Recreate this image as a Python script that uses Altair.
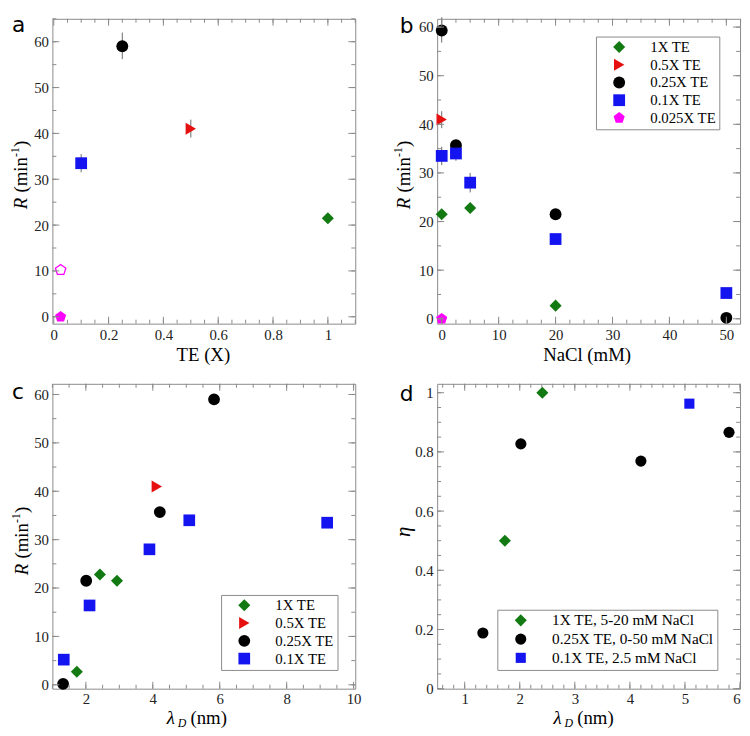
import altair as alt
import pandas as pd

# ---------------- data ----------------
series_names = ["1X TE", "0.5X TE", "0.25X TE", "0.1X TE", "0.025X TE"]
series_colors = ["#137a13", "#e61010", "#000000", "#1414f0", "#ff00ff"]
PENTAGON = "M0,-1L0.951,-0.309L0.588,0.809L-0.588,0.809L-0.951,-0.309Z"
series_shapes = ["diamond", "triangle-right", "circle", "square", PENTAGON]
series_sizes = [150, 140, 105, 75, 120]

# panel a : R vs TE
a_series = ["1X TE", "0.5X TE", "0.25X TE", "0.1X TE", "0.025X TE"]
a_te = [1.0, 0.5, 0.25, 0.1, 0.025]
a_r = [21.5, 41.0, 59.0, 33.5, 0.0]
a_err_te = [0.5, 0.25, 0.1]
a_err_lo = [39.1, 56.2, 31.5]
a_err_hi = [43.0, 62.0, 35.5]
a_open_te = [0.025]
a_open_r = [10.2]

# panel b : R vs NaCl
b_series = ["1X TE", "1X TE", "1X TE",
            "0.5X TE",
            "0.25X TE", "0.25X TE", "0.25X TE", "0.25X TE",
            "0.1X TE", "0.1X TE", "0.1X TE", "0.1X TE", "0.1X TE",
            "0.025X TE"]
b_nacl = [0, 5, 20,
          0,
          0, 2.5, 20, 50,
          0, 2.5, 5, 20, 50,
          0]
b_r = [21.5, 22.8, 2.7,
       41.0,
       59.3, 35.7, 21.5, 0.2,
       33.5, 34.0, 28.0, 16.4, 5.3,
       0.0]
b_err_x = [0, 0, 0, 2.5, 5]
b_err_lo = [56.8, 39.2, 31.6, 32.5, 26.0]
b_err_hi = [62.0, 42.7, 35.4, 35.5, 30.0]

# panel c : R vs Debye length
c_names = ["1X TE", "0.5X TE", "0.25X TE", "0.1X TE"]
c_series = ["1X TE", "1X TE", "1X TE",
            "0.5X TE",
            "0.25X TE", "0.25X TE", "0.25X TE", "0.25X TE",
            "0.1X TE", "0.1X TE", "0.1X TE", "0.1X TE", "0.1X TE"]
c_lambda = [1.73, 2.42, 2.93,
            4.12,
            1.32, 2.01, 4.21, 5.83,
            1.34, 2.11, 3.90, 5.09, 9.21]
c_r = [2.7, 22.8, 21.5,
       41.0,
       0.2, 21.5, 35.7, 59.0,
       5.2, 16.4, 28.0, 34.0, 33.5]

# panel d : eta vs Debye length
d_names = ["1X TE, 5-20 mM NaCl", "0.25X TE, 0-50 mM NaCl", "0.1X TE, 2.5 mM NaCl"]
d_series = ["1X TE, 5-20 mM NaCl", "1X TE, 5-20 mM NaCl",
            "0.25X TE, 0-50 mM NaCl", "0.25X TE, 0-50 mM NaCl",
            "0.25X TE, 0-50 mM NaCl", "0.25X TE, 0-50 mM NaCl",
            "0.1X TE, 2.5 mM NaCl"]
d_lambda = [1.73, 2.41, 1.33, 2.02, 4.20, 5.80, 5.08]
d_eta = [0.5, 1.0, 0.188, 0.827, 0.769, 0.866, 0.963]

# ---------------- style ----------------
W, H = 307, 309
SERIF = "Liberation Serif"
SANS = "DejaVu Sans"
FRAME = "#8a8a8a"
TICKLAB = 15
TITLE = 19
MAJ, MIN = 7, 4


def rng(a, b, step):
    out = []
    n = int(round((b - a) / step))
    for i in range(n + 1):
        out.append(round(a + i * step, 6))
    return out


def main_axis(orient, values, pad):
    return alt.Axis(orient=orient, values=values, labelExpr="'' + datum.value",
                    title=None, grid=False,
                    domain=False, ticks=False, tickSize=0, labelPadding=pad,
                    labelFont=SERIF, labelFontSize=TICKLAB, labelColor="#222")


def tick_layers(xs, ys, xax, yax, xmaj, xmin, ymaj, ymin):
    layers = []
    for vals, size in [(xmaj, MAJ), (xmin, MIN)]:
        df = pd.DataFrame({"x": vals})
        layers.append(alt.Chart(df).mark_rule(color=FRAME, strokeWidth=1).encode(
            x=alt.X("x:Q", scale=xs, axis=xax), y=alt.value(H), y2=alt.value(H - size)))
        layers.append(alt.Chart(df).mark_rule(color=FRAME, strokeWidth=1).encode(
            x=alt.X("x:Q", scale=xs, axis=xax), y=alt.value(0), y2=alt.value(size)))
    for vals, size in [(ymaj, MAJ), (ymin, MIN)]:
        df = pd.DataFrame({"y": vals})
        layers.append(alt.Chart(df).mark_rule(color=FRAME, strokeWidth=1).encode(
            y=alt.Y("y:Q", scale=ys, axis=yax), x=alt.value(0), x2=alt.value(size)))
        layers.append(alt.Chart(df).mark_rule(color=FRAME, strokeWidth=1).encode(
            y=alt.Y("y:Q", scale=ys, axis=yax), x=alt.value(W), x2=alt.value(W - size)))
    return layers


def txt(text, x, y, size=TITLE, font=SERIF, style="normal", angle=0,
        align="left", baseline="alphabetic"):
    return alt.Chart(pd.DataFrame({"t": [text]})).mark_text(
        font=font, fontSize=size, fontStyle=style, angle=angle, align=align,
        baseline=baseline, color="black").encode(
        x=alt.value(x), y=alt.value(y), text="t:N")


def r_title(xc, r_start):
    # vertical title reading bottom to top: R (min^-1)
    return [txt("R", xc, r_start, style="italic", angle=270, baseline="middle"),
            txt("(min", xc, r_start - 17, angle=270, baseline="middle"),
            txt("-1", xc - 6, r_start - 53, size=12, angle=270, baseline="middle"),
            txt(")", xc, r_start - 63, angle=270, baseline="middle")]


def lambda_title(x0, yb):
    return [txt("\u03bb", x0, yb, style="italic"),
            txt("D", x0 + 11, yb + 3, size=12, style="italic"),
            txt("(nm)", x0 + 24, yb)]


def legend(x, y, fs=TICKLAB):
    return alt.Legend(orient="none", legendX=x, legendY=y, title=None,
                      strokeColor=FRAME, fillColor="white", padding=3,
                      symbolSize=85, symbolOffset=13, labelOffset=24,
                      labelFont=SERIF, labelFontSize=fs, labelColor="black",
                      labelLimit=400, rowPadding=2, symbolStrokeWidth=0)


def points(df, xs, ys, xax, yax, names, colors, shapes, sizes, leg):
    return alt.Chart(df).mark_point(filled=True, opacity=1).encode(
        x=alt.X("x:Q", scale=xs, axis=xax),
        y=alt.Y("y:Q", scale=ys, axis=yax),
        color=alt.Color("s:N", scale=alt.Scale(domain=names, range=colors), legend=leg),
        shape=alt.Shape("s:N", scale=alt.Scale(domain=names, range=shapes), legend=leg),
        size=alt.Size("s:N", scale=alt.Scale(domain=names, range=sizes), legend=None),
    )


def errbars(ex, lo, hi, xs, ys, xax, yax):
    df = pd.DataFrame({"x": ex, "y": lo, "hi": hi})
    return alt.Chart(df).mark_rule(color="#6a6a6a", strokeWidth=1).encode(
        x=alt.X("x:Q", scale=xs, axis=xax),
        y=alt.Y("y:Q", scale=ys, axis=yax),
        y2="hi:Q")


def panel(layers):
    return alt.layer(*layers).properties(width=W, height=H)


XPAD, YPAD = 4, 4

# ---------- panel a ----------
xa = alt.Scale(domain=[-0.005, 1.1], nice=False, zero=False)
ya = alt.Scale(domain=[-1.5, 65], nice=False, zero=False)
xaa = main_axis("bottom", rng(0, 1, 0.2), XPAD)
yaa = main_axis("left", rng(0, 60, 10), YPAD)
dfa = pd.DataFrame({"x": a_te, "y": a_r, "s": a_series})
open_a = alt.Chart(pd.DataFrame({"x": a_open_te, "y": a_open_r})).mark_point(
    shape=PENTAGON, filled=False, color="#ff00ff", strokeWidth=1.3, size=125, opacity=1).encode(
    x=alt.X("x:Q", scale=xa, axis=xaa), y=alt.Y("y:Q", scale=ya, axis=yaa))
pa = panel([errbars(a_err_te, a_err_lo, a_err_hi, xa, ya, xaa, yaa),
            points(dfa, xa, ya, xaa, yaa, series_names,
                   series_colors, series_shapes, series_sizes, None),
            open_a]
           + tick_layers(xa, ya, xaa, yaa, rng(0, 1, 0.2), rng(0.05, 1.1, 0.05),
                         rng(0, 60, 10), rng(0, 65, 5))
           + [txt("a", -41, 13, size=22, font=SANS),
              txt("TE (X)", 153, 347, align="center")]
           + r_title(-32, 193))

# ---------- panel b ----------
xb = alt.Scale(domain=[-0.8, 52.4], nice=False, zero=False)
yb = alt.Scale(domain=[-1.0, 61.7], nice=False, zero=False)
xba = main_axis("bottom", rng(0, 50, 10), XPAD)
yba = main_axis("left", rng(0, 60, 10), YPAD)
dfb = pd.DataFrame({"x": b_nacl, "y": b_r, "s": b_series})
pb = panel([errbars(b_err_x, b_err_lo, b_err_hi, xb, yb, xba, yba),
            points(dfb, xb, yb, xba, yba, series_names,
                   series_colors, series_shapes, series_sizes, legend(161, 18))]
           + tick_layers(xb, yb, xba, yba, rng(0, 50, 10), rng(0, 52.5, 2.5),
                         rng(0, 60, 10), rng(0, 60, 5))
           + [txt("b", -38, 14, size=22, font=SANS),
              txt("NaCl (mM)", 152, 347, align="center")]
           + r_title(-34, 193))

# ---------- panel c ----------
xc = alt.Scale(domain=[1.0, 10.05], nice=False, zero=False)
yc = alt.Scale(domain=[-0.8, 62.2], nice=False, zero=False)
xca = main_axis("bottom", rng(2, 10, 2), 3)
yca = main_axis("left", rng(0, 60, 10), YPAD)
dfc = pd.DataFrame({"x": c_lambda, "y": c_r, "s": c_series})
pc = panel([points(dfc, xc, yc, xca, yca, c_names,
                   series_colors[:4], series_shapes[:4], series_sizes[:4], legend(171, 214))]
           + tick_layers(xc, yc, xca, yca, rng(2, 10, 2), rng(1, 10, 0.5),
                         rng(0, 60, 10), rng(0, 60, 5))
           + [txt("c", -41, 15, size=22, font=SANS)]
           + lambda_title(116, 345)
           + r_title(-31, 194))

# ---------- panel d ----------
xd = alt.Scale(domain=[0.5, 6.0], nice=False, zero=False)
yd = alt.Scale(domain=[0.0, 1.03], nice=False, zero=False)
xda = main_axis("bottom", rng(1, 6, 1), 3)
yda = main_axis("left", rng(0, 1, 0.2), YPAD)
dfd = pd.DataFrame({"x": d_lambda, "y": d_eta, "s": d_series})
pd_ = panel([points(dfd, xd, yd, xda, yda, d_names,
                    [series_colors[0], series_colors[2], series_colors[3]],
                    [series_shapes[0], series_shapes[2], series_shapes[3]],
                    [series_sizes[0], series_sizes[2], series_sizes[3]],
                    legend(61, 229, 15.5))]
            + tick_layers(xd, yd, xda, yda, rng(1, 6, 1), rng(0.6, 6, 0.2),
                          rng(0, 1, 0.2), rng(0, 1, 0.05))
            + [txt("d", -38, 17, size=22, font=SANS)]
            + lambda_title(118, 345)
            + [txt("\u03b7", -34, 150, style="italic", angle=270, baseline="middle",
                   align="center", size=21)])

chart = alt.concat(pa, pb, pc, pd_, columns=2, bounds="flush",
                   spacing={"row": 61, "column": 83}).resolve_scale(
    color="independent", shape="independent", size="independent").properties(
    padding=0).configure_view(stroke=FRAME, strokeWidth=1)

chart.save("out.html", embed_options={"renderer": "svg", "actions": False})
